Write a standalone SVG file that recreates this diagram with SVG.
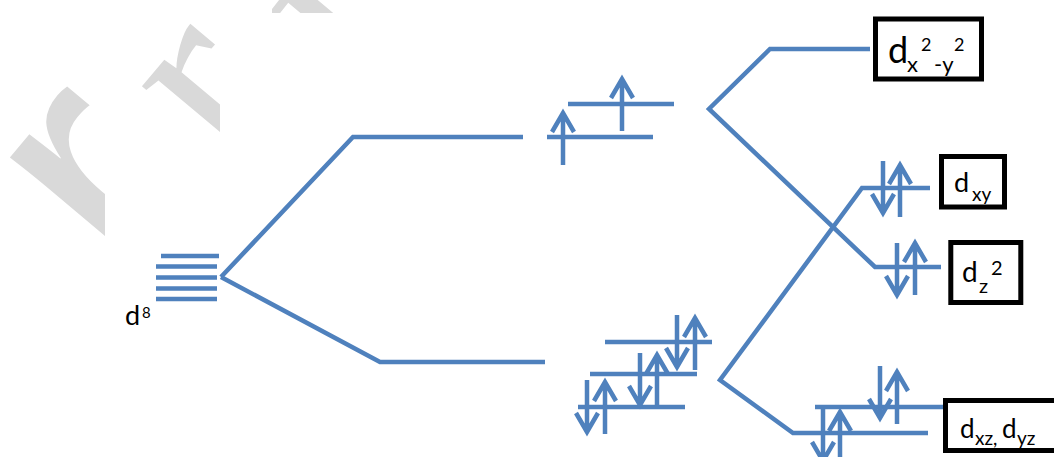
<svg xmlns="http://www.w3.org/2000/svg" width="1054" height="457" viewBox="0 0 1054 457">
  <style>
    .lv { fill: none; stroke: #4f81bd; stroke-width: 4.5; stroke-linejoin: miter; }
    .ar { fill: none; stroke: #4f81bd; stroke-width: 4.5; stroke-linejoin: miter; }
    .box { fill: #ffffff; stroke: #000000; stroke-width: 5; }
    .lbl { font-family: Lato, "Open Sans", "Liberation Sans", sans-serif; fill: #000000; }
    .wm { fill: #d9d9d9; }
  </style>
  <defs>
    <!-- spin arrows: tip at (0,0) -->
    <path id="up" class="ar" d="M0,52V0M-11,19L0,0L11,19"/>
    <path id="dn" class="ar" d="M0,-52V0M-11,-19L0,0L11,-19"/>
    <clipPath id="c1"><rect x="0" y="0" width="105" height="457"/></clipPath>
    <clipPath id="c2"><rect x="0" y="0" width="220" height="457"/></clipPath>
    <clipPath id="c3"><rect x="272" y="0" width="72" height="13"/></clipPath>
  </defs>
  <rect width="1054" height="457" fill="#ffffff"/>

  <!-- background watermark, partly hidden -->
  <g id="watermark">
    <g clip-path="url(#c1)">
      <text class="wm" transform="translate(142,300) rotate(-50)" font-family="Liberation Sans, sans-serif" font-size="365">r</text>
    </g>
    <g clip-path="url(#c2)">
      <text class="wm" transform="translate(230,167) rotate(-50)" font-family="Liberation Serif, serif" font-size="260">r</text>
    </g>
    <g clip-path="url(#c3)">
      <text class="wm" transform="translate(286,100) rotate(-50)" font-family="Liberation Serif, serif" font-size="260">a</text>
    </g>
  </g>

  <!-- connectors: splitting lines -->
  <g id="connectors">
    <path class="lv" d="M221,277L353,137H523"/>
    <path class="lv" d="M221,277L380,362H545"/>
    <path class="lv" d="M870,49H770L709,109L875,267H941"/>
    <path class="lv" d="M930,188H862L720,380L793,433H928"/>
  </g>

  <!-- free-ion d8 set -->
  <g id="d8">
    <path class="lv" d="M161,256H219M156,266.5H217M156,277.5H217M156,288.5H217M156,299H217"/>
    <text class="lbl" x="125" y="325" font-size="27">d</text>
    <text class="lbl" x="142" y="318" font-size="15">8</text>
  </g>

  <!-- upper intermediate pair -->
  <g id="upper-pair">
    <path class="lv" d="M547,137H653M568,104H674"/>
    <use href="#up" x="563" y="113"/>
    <use href="#up" x="622" y="79"/>
  </g>

  <!-- lower intermediate triplet -->
  <g id="lower-triplet">
    <path class="lv" d="M605,342H712M590,374H697M578,407H685"/>
    <use href="#dn" x="677" y="367"/>
    <use href="#up" x="695" y="318"/>
    <use href="#dn" x="640" y="405"/>
    <use href="#up" x="657" y="355"/>
    <use href="#dn" x="587" y="432"/>
    <use href="#up" x="605" y="382"/>
  </g>

  <!-- dx2-y2 -->
  <g id="dx2y2">
    <rect class="box" x="875.5" y="19" width="106" height="60"/>
    <text class="lbl" x="888" y="62.5" font-size="36">d</text>
    <text class="lbl" x="907" y="71.5" font-size="22">x</text>
    <text class="lbl" x="921" y="51" font-size="18">2</text>
    <text class="lbl" x="934" y="72" font-size="22">-y</text>
    <text class="lbl" x="954" y="51" font-size="18">2</text>
  </g>

  <!-- dxy -->
  <g id="dxy">
    <use href="#dn" x="883" y="213"/>
    <use href="#up" x="900" y="165"/>
    <rect class="box" x="941.5" y="156.5" width="63" height="50.5"/>
    <text class="lbl" x="954" y="192" font-size="27">d</text>
    <text class="lbl" x="972" y="201" font-size="19">xy</text>
  </g>

  <!-- dz2 -->
  <g id="dz2">
    <use href="#dn" x="897" y="295"/>
    <use href="#up" x="915" y="243"/>
    <rect class="box" x="950.8" y="242.5" width="70" height="60"/>
    <text class="lbl" x="962" y="282" font-size="28">d</text>
    <text class="lbl" x="979" y="293" font-size="20">z</text>
    <text class="lbl" x="991" y="275" font-size="20">2</text>
  </g>

  <!-- dxz, dyz -->
  <g id="dxz-dyz">
    <path class="lv" d="M815,407H945"/>
    <use href="#dn" x="880" y="418"/>
    <use href="#up" x="897" y="372"/>
    <use href="#dn" x="823" y="461"/>
    <use href="#up" x="840" y="412"/>
    <rect class="box" x="945.5" y="400.5" width="120" height="50"/>
    <text class="lbl" x="960" y="438" font-size="26">d</text>
    <text class="lbl" x="975" y="445" font-size="19">xz,</text>
    <text class="lbl" x="1002" y="438" font-size="26">d</text>
    <text class="lbl" x="1017" y="445" font-size="19">yz</text>
  </g>
</svg>
